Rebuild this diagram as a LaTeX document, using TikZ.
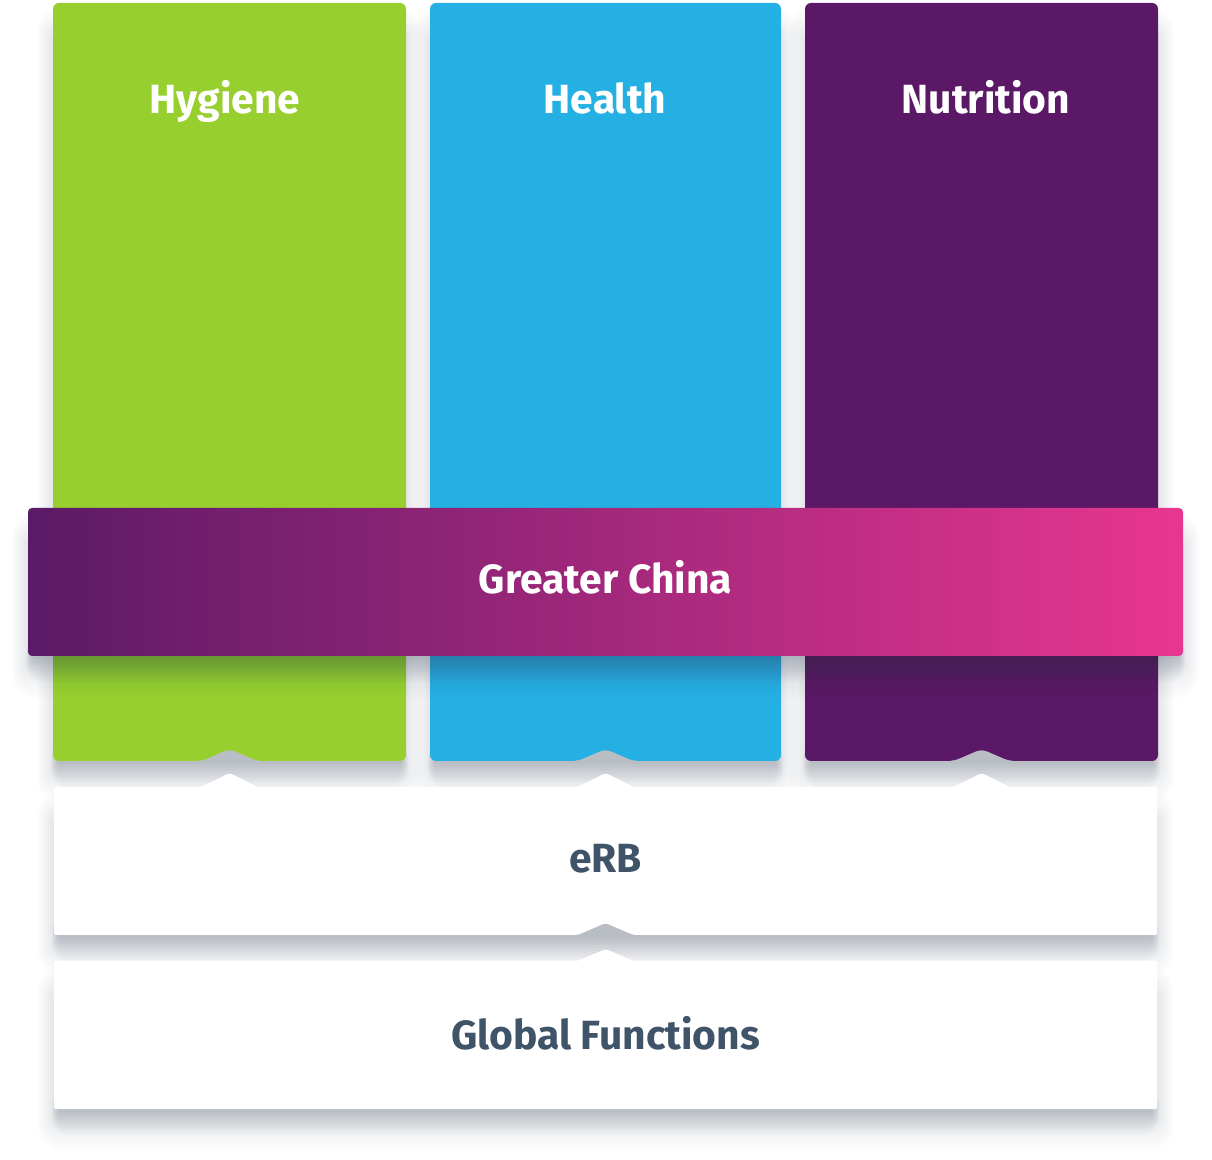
\documentclass[tikz,border=0pt]{standalone}
\usepackage{fontspec}
\setmainfont{Fira Sans}
\usetikzlibrary{calc}

\definecolor{hygienegreen}{HTML}{97D02E}
\definecolor{healthblue}{HTML}{25B0E4}
\definecolor{nutritionpurple}{HTML}{5A1866}
\definecolor{chinastart}{HTML}{5B1A67}
\definecolor{chinaend}{HTML}{E8368F}
\definecolor{slatetext}{HTML}{3F5468}
\definecolor{shadowgrey}{HTML}{2E3C52}

\tikzset{
  title/.style={font=\fontsize{20.4}{24}\selectfont\bfseries, text=white,
    inner sep=0pt, anchor=base},
  darktitle/.style={title, text=slatetext}
}

% soft shadow under a box: x1, y1, x2, y2 (pixel units)
\newcommand{\softshadow}[4]{%
  % wide, light haze
  \foreach \k in {1,...,12}
    \fill[shadowgrey, opacity=0.011, rounded corners=\k*1pt]
      (#1-\k*1.5+2, #2+40-\k*3) rectangle (#3+\k*1.5-2, #4+\k*3.5);
  % tight, darker band along the bottom edge
  \foreach \k in {1,...,8}
    \fill[shadowgrey, opacity=0.03, rounded corners=\k*1pt]
      (#1-\k+6, #4-20) rectangle (#3+\k-6, #4+\k*3.2);
}

\begin{document}
\begin{tikzpicture}[x=0.5pt, y=-0.5pt]
  \useasboundingbox (0,0) rectangle (1212,1160);

  % Pillars
  \foreach \xa/\xb/\tx/\col/\name/\txt in {53/406/225/hygienegreen/hyg/Hygiene,
      430/781/605/healthblue/hea/Health, 805/1158/986/nutritionpurple/nut/Nutrition} {
    \pgfmathsetmacro\xc{(\xa+\xb)/2}
    \softshadow{\xa}{3}{\xb}{761}
    \fill[\col, rounded corners=3pt] (\xc,749) -- (\xc+28,761) -- (\xb,761)
      -- (\xb,3) -- (\xa,3) -- (\xa,761) -- (\xc-28,761) -- cycle;
    \node[title] (\name) at (\tx,114) {\txt};
  }

  % Region band
  \softshadow{28}{508}{1183}{656}
  \shade[left color=chinastart, right color=chinaend, rounded corners=2pt]
    (28,508) rectangle (1183,656);
  \node[title] (china) at (605.5,594) {Greater China};

  % eRB
  \softshadow{54}{787}{1157}{935}
  \fill[white, rounded corners=1pt] (54,787) -- (201.5,787) -- (229.5,773) -- (257.5,787)
    -- (577.5,787) -- (605.5,773) -- (633.5,787)
    -- (953.5,787) -- (981.5,773) -- (1009.5,787) -- (1157,787)
    -- (1157,935) -- (633.5,935) -- (605.5,923) -- (577.5,935) -- (54,935) -- cycle;
  \node[darktitle] (erb) at (605.5,873) {eRB};

  % Global functions
  \softshadow{54}{961}{1157}{1109}
  \fill[white, rounded corners=1pt] (54,961) -- (577.5,961) -- (605.5,949) -- (633.5,961)
    -- (1157,961) -- (1157,1109) -- (54,1109) -- cycle;
  \node[darktitle] (global) at (605.5,1050) {Global Functions};
\end{tikzpicture}
\end{document}
